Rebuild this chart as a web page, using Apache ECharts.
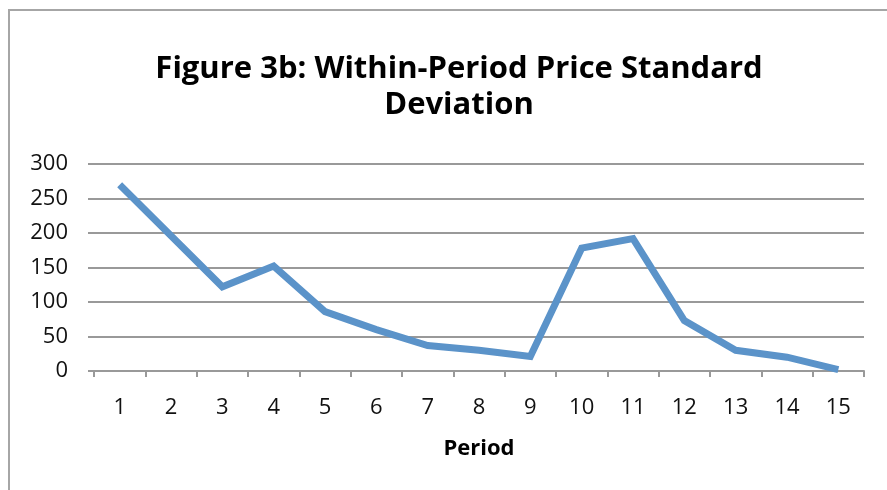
<!DOCTYPE html>
<html><head><meta charset="utf-8">
<script src="https://cdn.jsdelivr.net/npm/echarts@6/dist/echarts.min.js"></script>
<style>html,body{margin:0;padding:0;background:#fff}#c{width:887px;height:490px}</style>
</head><body><div id="c"></div>
<script>
const titleText = 'Figure 3b: Within-Period Price Standard\nDeviation';
const xTitle = 'Period';
const categories = ['1','2','3','4','5','6','7','8','9','10','11','12','13','14','15'];
const stdDev = [270,196,122,152,86,60,37,30,21,178,192,73,30,20,2];
const yTicks = {min:0, max:300, interval:50};

const chart = echarts.init(document.getElementById('c'));
chart.setOption({
  animation:false,
  graphic:[{type:'rect', shape:{x:9,y:10,width:900,height:500}, style:{fill:'none',stroke:'#a6a6a6',lineWidth:2}, silent:true}],
  title:{text:titleText, top:46, textAlign:'center', left:454,
    textStyle:{fontFamily:'Open Sans', fontWeight:'bold', fontSize:31, lineHeight:36, color:'#000'}},
  grid:{left:94, right:23, top:164, bottom:119, containLabel:false},
  xAxis:{type:'category', data:categories, boundaryGap:true, name:xTitle, nameLocation:'middle', nameGap:67,
    nameTextStyle:{fontFamily:'Open Sans', fontWeight:'bold', fontSize:22, color:'#000'},
    axisLine:{lineStyle:{color:'#999', width:2}}, axisTick:{show:true, length:6, lineStyle:{color:'#999', width:2}, alignWithLabel:false},
    axisLabel:{fontFamily:'Open Sans', fontSize:22, color:'#111', margin:26}},
  yAxis:{type:'value', min:yTicks.min, max:yTicks.max, interval:yTicks.interval,
    axisLine:{show:false}, axisTick:{show:true, length:6, lineStyle:{color:'#999', width:2}},
    axisLabel:{fontFamily:'Open Sans', fontSize:22, color:'#111', margin:26},
    splitLine:{lineStyle:{color:'#999', width:2}}},
  series:[{type:'line', data:stdDev, symbol:'none', lineStyle:{color:'#5b93c9', width:7, join:'miter'}}]
});
</script></body></html>
